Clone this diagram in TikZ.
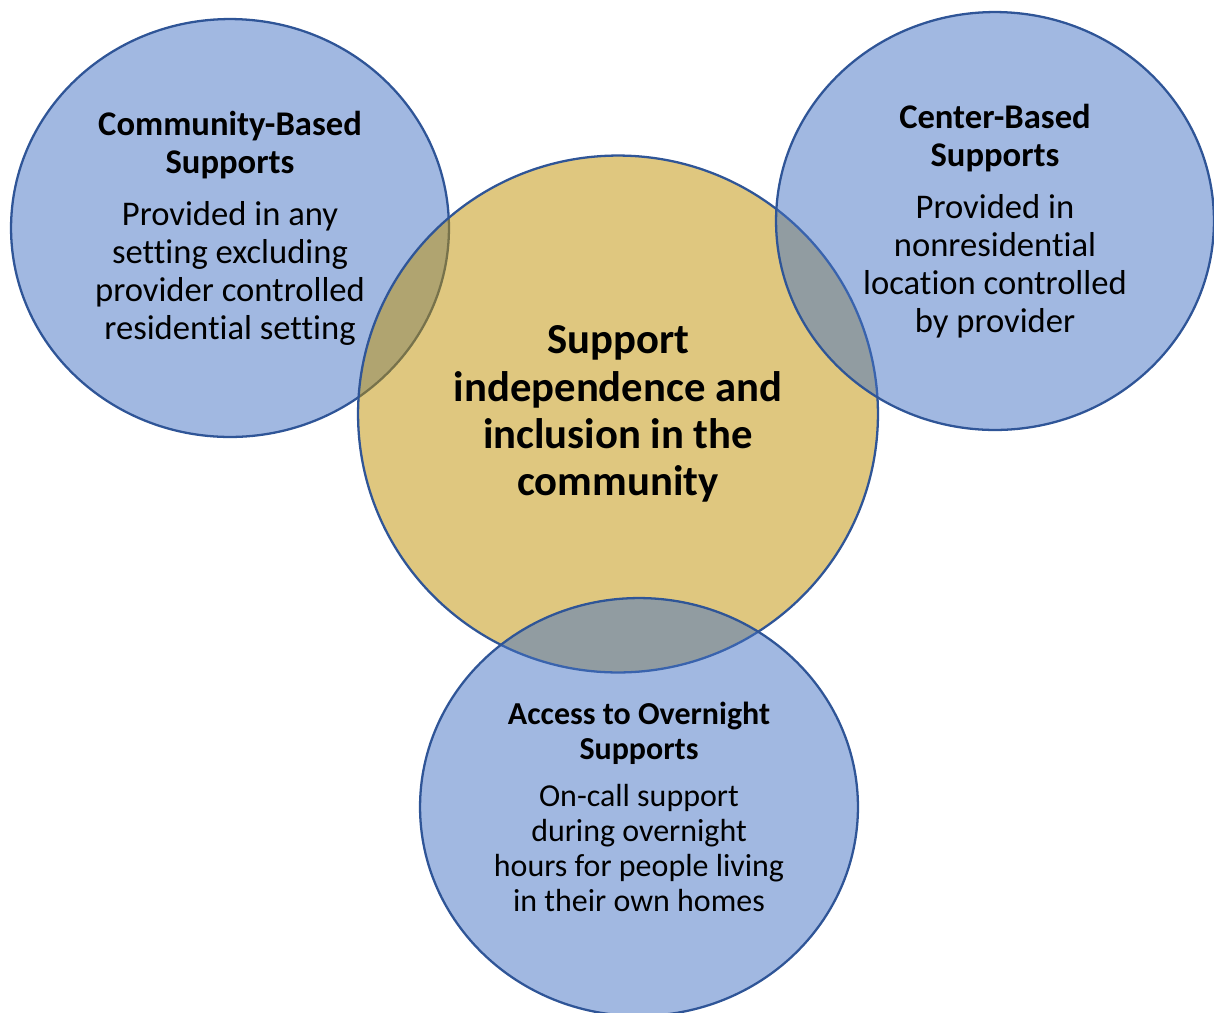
\documentclass[tikz,border=0pt]{standalone}
\usepackage{fontspec}
\setmainfont[Ligatures=NoCommon]{Carlito}
\usepackage{tikz}
\usetikzlibrary{shapes.geometric}

\definecolor{bluefill}{HTML}{4472C4}
\definecolor{goldfill}{HTML}{BF9000}
\definecolor{rimblue}{HTML}{2F5597}

\tikzset{
  bubble/.style={ellipse, draw=rimblue, line width=1.3pt, fill=bluefill, fill opacity=0.5, draw opacity=1, text opacity=1, inner sep=0pt, align=center, minimum width=8.76cm, minimum height=8.36cm, font=\fontsize{19.7}{21.6}\selectfont},
  hub/.style={bubble, fill=goldfill, minimum width=10.4cm, minimum height=10.34cm, font=\fontsize{24.3}{26.9}\bfseries\selectfont}
}

\begin{document}
\begin{tikzpicture}[x=0.02cm, y=-0.02cm]
        \useasboundingbox (0, 0) rectangle (1214, 1012);
        \node [bubble] (community) at (230, 228) {\textbf{Community-Based}\\\textbf{Supports}\\[8pt]Provided in any\\setting excluding\\provider controlled\\residential setting};
        \node [hub] (inclusion) at (618, 414) {Support\\independence and\\inclusion in the\\community};
        \node [bubble] (centerbased) at (995, 221) {\textbf{Center-Based}\\\textbf{Supports}\\[8pt]Provided in\\nonresidential\\location controlled\\by provider};
        \node [bubble, font=\fontsize{18.2}{19.8}\selectfont] (overnight) at (639, 807) {\textbf{Access to Overnight}\\\textbf{Supports}\\[7pt]On-call support\\during overnight\\hours for people living\\in their own homes};
      \end{tikzpicture}
\end{document}
